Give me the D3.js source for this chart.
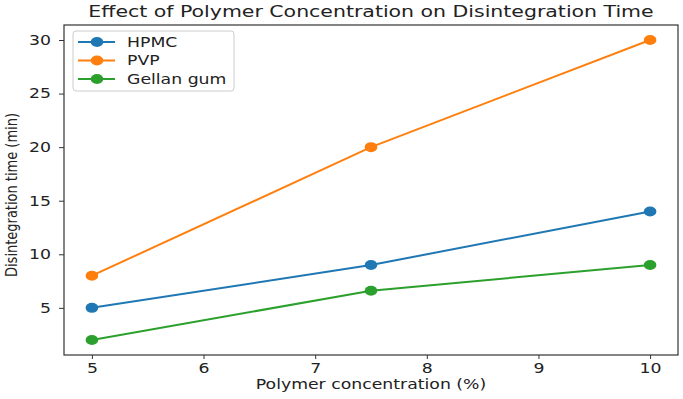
<!DOCTYPE html>
<html>
<head>
<meta charset="utf-8">
<script src="https://cdn.jsdelivr.net/npm/d3@7"></script>
<style>
  body { margin: 0; background: #fff; }
  text { font-family: "DejaVu Sans", sans-serif; fill: #222; }
</style>
</head>
<body>
<div id="chart"></div>
<script>
const width = 683;
const height = 399;
const sx = 1.28; // the reference picture is stretched sideways

// data
const concentrations = [5, 7.5, 10];
const hpmc = [5, 9, 14];
const pvp = [8, 20, 30];
const gellan = [2, 6.6, 9];
const seriesNames = ["HPMC", "PVP", "Gellan gum"];
const colors = ["#1f77b4", "#ff7f0e", "#2ca02c"];
const xTicks = [5, 6, 7, 8, 9, 10];
const yTicks = [5, 10, 15, 20, 25, 30];

const series = [hpmc, pvp, gellan].map((vals, i) => ({
    name: seriesNames[i],
    color: colors[i],
    points: vals.map((v, j) => ({ x: concentrations[j], y: v }))
}));

const margin = { top: 25, right: 5, bottom: 44, left: 64 };

const svg = d3.select("#chart")
    .append("svg")
    .attr("width", width)
    .attr("height", height);

const x = d3.scaleLinear()
    .domain([4.75, 10.25])
    .range([margin.left, width - margin.right]);

const y = d3.scaleLinear()
    .domain([0.6, 31.4])
    .range([height - margin.bottom, margin.top]);

// axes
const xAxis = svg.append("g")
    .attr("transform", `translate(0,${height - margin.bottom})`)
    .call(d3.axisBottom(x).tickValues(xTicks).tickSize(4).tickPadding(4).tickFormat(d3.format("d")));

const yAxis = svg.append("g")
    .attr("transform", `translate(${margin.left},0)`)
    .call(d3.axisLeft(y).tickValues(yTicks).tickSize(5).tickPadding(5).tickFormat(d3.format("d")));

[xAxis, yAxis].forEach(a => {
    a.select(".domain").remove();
    a.selectAll("line").attr("stroke", "#333");
    a.selectAll("text").style("font-size", "13.5px").attr("fill", "#222");
});
xAxis.selectAll("text")
    .attr("transform", `scale(${sx},1)`);
yAxis.selectAll("text")
    .attr("x", null)
    .attr("transform", `translate(-13,0) scale(${sx},1)`);

// frame
svg.append("rect")
    .attr("x", margin.left)
    .attr("y", margin.top)
    .attr("width", width - margin.left - margin.right)
    .attr("height", height - margin.top - margin.bottom)
    .attr("fill", "none")
    .attr("stroke", "#333")
    .attr("stroke-width", 1.2);

// lines + markers
const line = d3.line().x(d => x(d.x)).y(d => y(d.y));

series.forEach(s => {
    svg.append("path")
        .datum(s.points)
        .attr("d", line)
        .attr("fill", "none")
        .attr("stroke", s.color)
        .attr("stroke-width", 2);
    svg.selectAll(null)
        .data(s.points)
        .enter()
        .append("ellipse")
        .attr("cx", d => x(d.x))
        .attr("cy", d => y(d.y))
        .attr("rx", 6.3)
        .attr("ry", 5)
        .attr("fill", s.color);
});

// title and labels
svg.append("text")
    .attr("transform", `translate(371,17) scale(${sx},1)`)
    .attr("text-anchor", "middle")
    .style("font-size", "16px")
    .text("Effect of Polymer Concentration on Disintegration Time");

svg.append("text")
    .attr("transform", `translate(371,389) scale(${sx},1)`)
    .attr("text-anchor", "middle")
    .style("font-size", "13.5px")
    .text("Polymer concentration (%)");

svg.append("text")
    .attr("transform", `translate(17,195) scale(${sx},1) rotate(-90)`)
    .attr("text-anchor", "middle")
    .style("font-size", "13px")
    .text("Disintegration time (min)");

// legend
const legend = svg.append("g").attr("transform", "translate(73,31)");
legend.append("rect")
    .attr("width", 161)
    .attr("height", 60)
    .attr("rx", 3)
    .attr("fill", "#fff")
    .attr("stroke", "#ccc");

const item = legend.selectAll(".item")
    .data(series)
    .enter()
    .append("g")
    .attr("class", "item")
    .attr("transform", (d, i) => `translate(0,${11 + i * 18.5})`);

item.append("line")
    .attr("x1", 5).attr("x2", 42)
    .attr("stroke", d => d.color)
    .attr("stroke-width", 2);
item.append("ellipse")
    .attr("cx", 24)
    .attr("rx", 6.3)
    .attr("ry", 5)
    .attr("fill", d => d.color);
item.append("text")
    .attr("transform", `translate(54,0) scale(${sx},1)`)
    .attr("dy", "0.35em")
    .style("font-size", "13.5px")
    .text(d => d.name);
</script>
</body>
</html>
